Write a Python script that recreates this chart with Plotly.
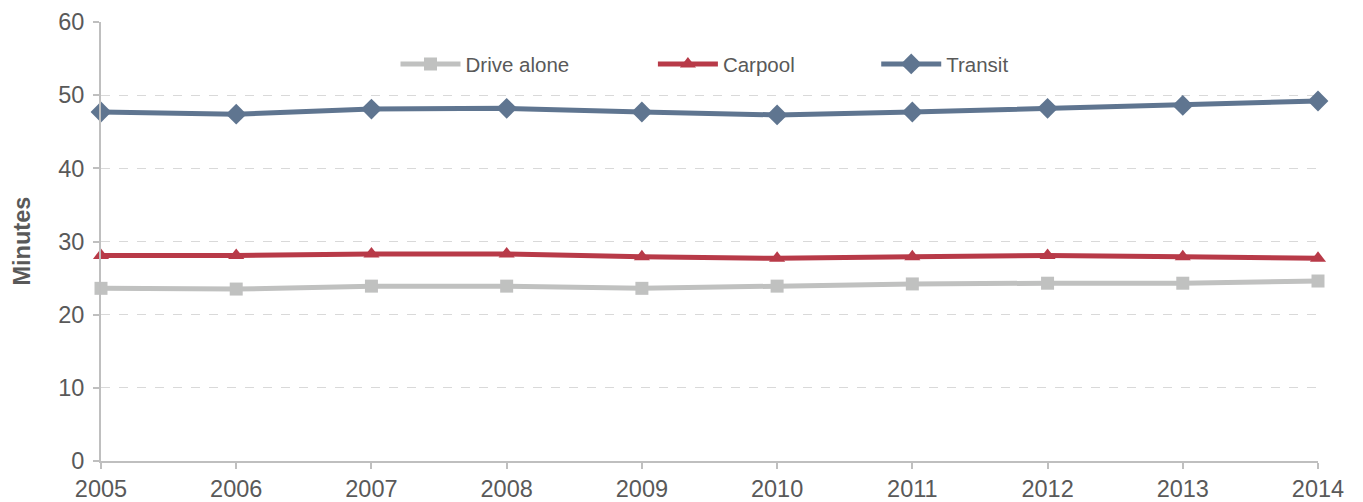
import plotly.graph_objects as go

years = [2005, 2006, 2007, 2008, 2009, 2010, 2011, 2012, 2013, 2014]
drive_alone = [23.6, 23.5, 23.9, 23.9, 23.6, 23.9, 24.2, 24.3, 24.3, 24.6]
carpool = [28.1, 28.1, 28.3, 28.3, 27.9, 27.7, 27.9, 28.1, 27.9, 27.7]
transit = [47.7, 47.4, 48.1, 48.2, 47.7, 47.3, 47.7, 48.2, 48.6, 49.2]
y_ticks = [0, 10, 20, 30, 40, 50, 60]

FONT = "Liberation Sans, Arial, sans-serif"
TXT = "#595959"
AX = "#BFBFBF"

series = [
    ("Drive alone", drive_alone, "#C0C1C0", "square", 13, "legend", 0.2420),
    ("Carpool", carpool, "#B83A48", "triangle-up", 14, "legend2", 0.4535),
    ("Transit", transit, "#5F7590", "diamond", 16, "legend3", 0.6370),
]

fig = go.Figure()
for name, vals, color, sym, size, lg, _ in series:
    fig.add_trace(go.Scatter(
        x=years, y=vals, name=name, mode="lines+markers",
        line=dict(color=color, width=5),
        marker=dict(symbol=sym, size=size, color=color),
        cliponaxis=False, legend=lg,
    ))

legend_common = dict(orientation="h", y=0.904, yanchor="middle", xanchor="left",
                     font=dict(family=FONT, size=20.5, color=TXT),
                     bgcolor="rgba(0,0,0,0)", itemwidth=60)
layout_legends = {}
for name, vals, color, sym, size, lg, lx in series:
    layout_legends[lg] = dict(legend_common, x=lx)

fig.update_layout(
    width=1355, height=494,
    margin=dict(l=93, r=45, t=14, b=41),
    paper_bgcolor="white", plot_bgcolor="white",
    font=dict(family=FONT, color=TXT),
    showlegend=True,
    **layout_legends,
    xaxis=dict(
        range=[2005, 2014], tickvals=years, ticktext=[str(y) for y in years],
        showgrid=False, zeroline=False, automargin=False,
        showline=True, linecolor=AX, linewidth=2,
        ticks="outside", ticklen=6, tickwidth=2, tickcolor=AX,
        tickfont=dict(family=FONT, size=23.5, color=TXT),
    ),
    yaxis=dict(
        range=[0, 60], tickvals=y_ticks, automargin=False,
        showgrid=True, gridcolor="#D9D9D9", griddash="dash", gridwidth=1,
        zeroline=False,
        showline=True, linecolor=AX, linewidth=2,
        ticks="outside", ticklen=6, tickwidth=2, tickcolor=AX,
        ticklabelstandoff=4,
        tickfont=dict(family=FONT, size=23.5, color=TXT),
    ),
    annotations=[dict(
        text="<b>Minutes</b>", textangle=-90, xref="paper", yref="paper",
        x=0, y=0.5, xanchor="center", yanchor="middle", xshift=-80,
        showarrow=False, font=dict(family=FONT, size=23.5, color=TXT),
    )],
)

fig.write_html("out.html")
